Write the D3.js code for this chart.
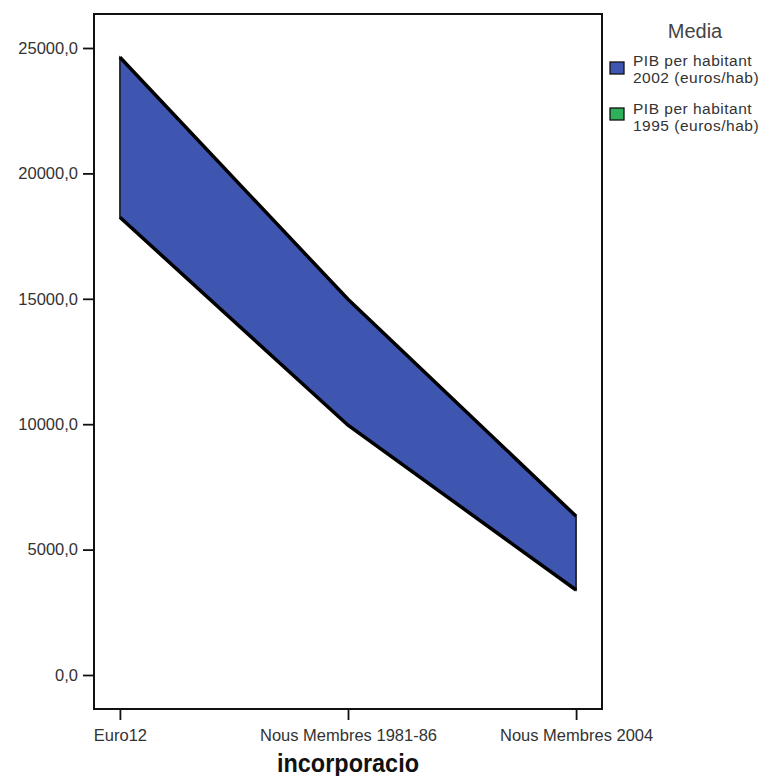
<!DOCTYPE html>
<html><head><meta charset="utf-8">
<script src="https://cdn.jsdelivr.net/npm/d3@7"></script>
<style>body{margin:0;background:#fff}svg{display:block}text{font-family:"Liberation Sans",Arial,sans-serif}</style>
</head><body>
<svg id="c" width="769" height="776"></svg>
<script>
const categories = ["Euro12", "Nous Membres 1981-86", "Nous Membres 2004"];
const pib2002 = [24630, 14980, 6330];
const pib1995 = [18250, 9960, 3390];
const yTicks = [0, 5000, 10000, 15000, 20000, 25000];
const legendLabels = [["PIB per habitant", "2002 (euros/hab)"], ["PIB per habitant", "1995 (euros/hab)"]];
const colors = ["#3f56b0", "#2fb05a"];

const svg = d3.select("#c");
const L = 94, R = 602, T = 14, B = 709;
const x = d3.scalePoint().domain(categories).range([L, R]).padding(0.1136);
const y = d3.scaleLinear().domain([0, 25000]).range([675, 48]);

const data = categories.map((c, i) => ({c, hi: pib2002[i], lo: pib1995[i]}));

svg.append("rect").attr("x", L).attr("y", T).attr("width", R - L).attr("height", B - T)
  .attr("fill", "#fff").attr("stroke", "#111").attr("stroke-width", 2);

const area = d3.area().x(d => x(d.c)).y0(d => y(d.lo)).y1(d => y(d.hi));
svg.append("path").datum(data).attr("d", area).attr("fill", colors[0])
  .attr("stroke", "#111").attr("stroke-width", 1.5);
const lineHi = d3.line().x(d => x(d.c)).y(d => y(d.hi));
const lineLo = d3.line().x(d => x(d.c)).y(d => y(d.lo));
svg.append("path").datum(data).attr("d", lineHi).attr("fill", "none").attr("stroke", "#000").attr("stroke-width", 3.5);
svg.append("path").datum(data).attr("d", lineLo).attr("fill", "none").attr("stroke", "#000").attr("stroke-width", 3.5);

const yAxis = svg.append("g").attr("transform", `translate(${L},0)`)
  .call(d3.axisLeft(y).tickValues(yTicks).tickSize(11).tickPadding(5)
    .tickFormat(d => d3.format(".1f")(d).replace(".", ",")));
yAxis.select(".domain").remove();
yAxis.selectAll("line").attr("stroke", "#111").attr("stroke-width", 1.8);
yAxis.selectAll("text").attr("font-size", 16.5).attr("fill", "#333").attr("font-family", "Liberation Sans, Arial, sans-serif");

const xAxis = svg.append("g").attr("transform", `translate(0,${B})`)
  .call(d3.axisBottom(x).tickSize(11).tickPadding(9));
xAxis.select(".domain").remove();
xAxis.selectAll("line").attr("stroke", "#111").attr("stroke-width", 1.8);
xAxis.selectAll("text").attr("font-size", 16.5).attr("fill", "#333").attr("font-family", "Liberation Sans, Arial, sans-serif");

svg.append("text").attr("x", x(categories[1])).attr("y", 772).attr("text-anchor", "middle")
  .attr("font-size", 25).attr("font-weight", "bold").attr("fill", "#111")
  .attr("textLength", 142).attr("lengthAdjust", "spacingAndGlyphs").text("incorporacio");

svg.append("text").attr("x", 695).attr("y", 38).attr("text-anchor", "middle")
  .attr("font-size", 20).attr("fill", "#444").text("Media");
legendLabels.forEach((lab, i) => {
  svg.append("rect").attr("x", 610).attr("y", 62 + i * 46).attr("width", 14).attr("height", 12)
    .attr("fill", colors[i]).attr("stroke", "#111").attr("stroke-width", 1.3);
  lab.forEach((t, j) => svg.append("text").attr("x", 633).attr("y", 66 + i * 48 + j * 16.5)
    .attr("font-size", 15.5).attr("letter-spacing", 0.5).attr("fill", "#333").text(t));
});
</script>
</body></html>
